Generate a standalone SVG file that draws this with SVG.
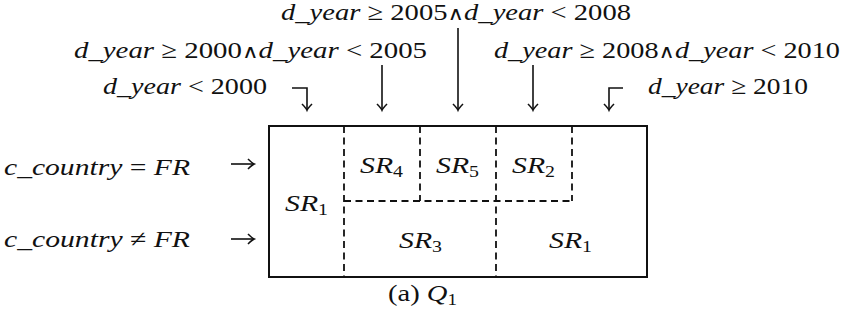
<svg xmlns="http://www.w3.org/2000/svg" width="853" height="323" viewBox="0 0 853 323">
<style>
text{font-family:"Liberation Serif","Times New Roman",serif;font-size:24px;fill:#111}
.i{font-style:italic}
.sub{font-size:16px}
.w{font-family:"DejaVu Serif",serif;font-size:19px}
.box{fill:none;stroke:#111;stroke-width:2}
.dash{fill:none;stroke:#111;stroke-width:1.8;stroke-dasharray:7 4.5}
.arr{fill:none;stroke:#111;stroke-width:1.6;marker-end:url(#ah)}
</style>
<defs>
<marker id="ah" markerUnits="userSpaceOnUse" markerWidth="16" markerHeight="16" refX="8" refY="8" orient="auto" viewBox="0 0 16 16">
<path d="M2,3 Q6,7 8.2,8 Q6,9 2,13" fill="none" stroke="#111" stroke-width="1.6"/>
</marker>
</defs>
<g id="labels-top">
<text x="281" y="20" textLength="350" lengthAdjust="spacingAndGlyphs"><tspan class="i">d_year</tspan> ≥ 2005<tspan class="w">∧</tspan><tspan class="i">d_year</tspan> &lt; 2008</text>
<text x="74" y="58" textLength="353" lengthAdjust="spacingAndGlyphs"><tspan class="i">d_year</tspan> ≥ 2000<tspan class="w">∧</tspan><tspan class="i">d_year</tspan> &lt; 2005</text>
<text x="494" y="58" textLength="346" lengthAdjust="spacingAndGlyphs"><tspan class="i">d_year</tspan> ≥ 2008<tspan class="w">∧</tspan><tspan class="i">d_year</tspan> &lt; 2010</text>
<text x="103" y="94" textLength="164" lengthAdjust="spacingAndGlyphs"><tspan class="i">d_year</tspan> &lt; 2000</text>
<text x="648" y="94" textLength="160" lengthAdjust="spacingAndGlyphs"><tspan class="i">d_year</tspan> ≥ 2010</text>
</g>
<g id="labels-left">
<text x="4" y="175" textLength="186" lengthAdjust="spacingAndGlyphs"><tspan class="i">c_country</tspan> = <tspan class="i">FR</tspan></text>
<text x="4" y="247" textLength="186" lengthAdjust="spacingAndGlyphs"><tspan class="i">c_country</tspan> ≠ <tspan class="i">FR</tspan></text>
</g>
<g id="grid">
<rect class="box" x="269" y="126" width="378" height="151"/>
<path class="dash" d="M344,126V277M496,126V277M420,126V201M572,126V201M344,201H572"/>
</g>
<g id="cells">
<text x="285" y="211" textLength="43" lengthAdjust="spacingAndGlyphs"><tspan class="i">SR</tspan><tspan class="sub" dy="4">1</tspan></text>
<text x="360" y="173" textLength="43" lengthAdjust="spacingAndGlyphs"><tspan class="i">SR</tspan><tspan class="sub" dy="4">4</tspan></text>
<text x="436" y="173" textLength="43" lengthAdjust="spacingAndGlyphs"><tspan class="i">SR</tspan><tspan class="sub" dy="4">5</tspan></text>
<text x="512" y="173" textLength="43" lengthAdjust="spacingAndGlyphs"><tspan class="i">SR</tspan><tspan class="sub" dy="4">2</tspan></text>
<text x="399" y="248" textLength="43" lengthAdjust="spacingAndGlyphs"><tspan class="i">SR</tspan><tspan class="sub" dy="4">3</tspan></text>
<text x="549" y="248" textLength="43" lengthAdjust="spacingAndGlyphs"><tspan class="i">SR</tspan><tspan class="sub" dy="4">1</tspan></text>
</g>
<g id="connectors">
<path class="arr" d="M292,88H307V110"/>
<path class="arr" d="M382,65V110"/>
<path class="arr" d="M458,28V110"/>
<path class="arr" d="M533,65V110"/>
<path class="arr" d="M623,88H609V110"/>
<path class="arr" d="M231,164H254"/>
<path class="arr" d="M231,239H254"/>
</g>
<g id="caption">
<text x="388" y="301" textLength="69" lengthAdjust="spacingAndGlyphs">(a) <tspan class="i">Q</tspan><tspan class="sub" dy="4">1</tspan></text>
</g>
</svg>
